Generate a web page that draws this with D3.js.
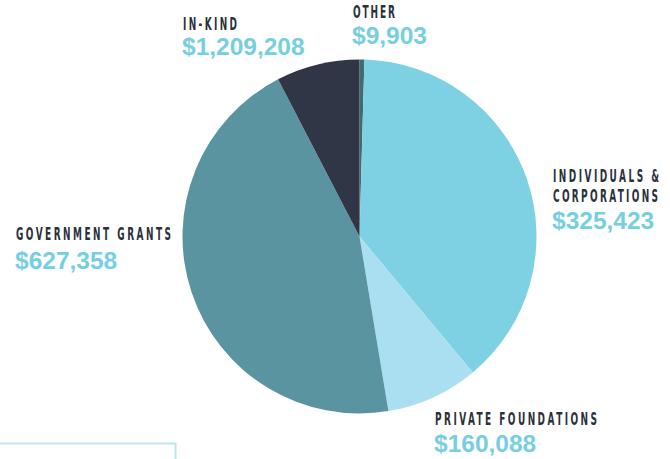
<!DOCTYPE html>
<html>
<head>
<meta charset="utf-8">
<script src="https://cdn.jsdelivr.net/npm/d3@7"></script>
<style>
  body { margin: 0; background: #fff; }
  svg { display: block; }
</style>
</head>
<body>
<div id="wrapper"></div>
<script>
// categories, in pie order (clockwise from 12 o'clock)
const categories = [["OTHER"], ["INDIVIDUALS &", "CORPORATIONS"], ["PRIVATE FOUNDATIONS"], ["GOVERNMENT GRANTS"], ["IN-KIND"]];
const amounts = ["$9,903", "$325,423", "$160,088", "$627,358", "$1,209,208"];
// slice sizes (degrees)
const shares = [1.6, 138.6, 30.4, 162, 27.4];
const colors = ["#3e6c73", "#7dd1e2", "#aadff1", "#5b94a1", "#303645"];

// label placement: x, baseline of first line, width of each line, baseline of amount
const labelPos = [
  {x: 353, y: 18,  widths: [42],       vy: 44},
  {x: 553, y: 182, widths: [106, 105], vy: 229},
  {x: 435, y: 425, widths: [162],      vy: 452},
  {x: 16,  y: 240, widths: [155],      vy: 269},
  {x: 183, y: 30,  widths: [54],       vy: 55}
];

const dimensions = {width: 670, height: 459, cx: 359.5, cy: 236.5, r: 177};

const svg = d3.select("#wrapper").append("svg")
  .attr("width", dimensions.width)
  .attr("height", dimensions.height);

// faint frame at bottom left
svg.append("path")
  .attr("d", "M0,443.5H175.5V459")
  .attr("fill", "none")
  .attr("stroke", "#bfe5ef")
  .attr("stroke-width", 2);

const pie = d3.pie().sort(null).value(d => d);
const arc = d3.arc().innerRadius(0).outerRadius(dimensions.r);

svg.append("g")
  .attr("transform", `translate(${dimensions.cx},${dimensions.cy})`)
  .selectAll("path")
  .data(pie(shares))
  .join("path")
  .attr("d", arc)
  .attr("fill", (d, i) => colors[i]);

// labels
const sx = 0.56;
const labels = svg.append("g");
categories.forEach((lines, i) => {
  const p = labelPos[i];
  const t = labels.append("text")
    .attr("transform", `translate(${p.x},${p.y}) scale(${sx},1)`)
    .attr("font-family", "'Liberation Sans Narrow', 'DejaVu Sans Condensed', sans-serif")
    .attr("font-weight", "bold")
    .attr("font-size", 17.8)
    .attr("fill", "#2b303d");
  lines.forEach((line, j) => {
    t.append("tspan")
      .attr("x", 0)
      .attr("y", j * 20)
      .attr("textLength", p.widths[j] / sx)
      .attr("lengthAdjust", "spacing")
      .text(line);
  });
  labels.append("text")
    .attr("x", p.x - 1)
    .attr("y", p.vy)
    .attr("font-family", "'Liberation Sans', Arial, sans-serif")
    .attr("font-weight", "bold")
    .attr("font-size", 24.5)
    .attr("fill", "#76cfe1")
    .text(amounts[i]);
});
</script>
</body>
</html>
